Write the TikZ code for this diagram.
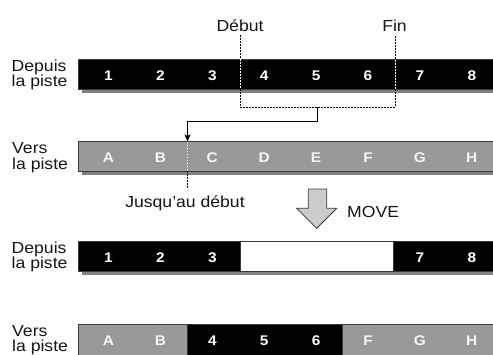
\documentclass[tikz,border=0pt]{standalone}
\usepackage{fontspec}
\setmainfont[FakeStretch=1.1]{Liberation Sans}
\usetikzlibrary{arrows.meta}
\definecolor{bargray}{HTML}{999999}
\definecolor{shadowgray}{HTML}{808080}
\definecolor{edgecol}{HTML}{3A3A3A}
\definecolor{arrowfill}{HTML}{CCCCCC}
\definecolor{txt}{HTML}{151515}
\definecolor{lettercol}{HTML}{F5F5F5}
\begin{document}
\begin{tikzpicture}[x=1pt,y=-1pt,
  lbl/.style={font=\fontsize{16}{15.7}\selectfont, text=txt, inner sep=0pt, align=left, anchor=north west},
  txtlbl/.style={font=\fontsize{16}{15.7}\selectfont, text=txt, inner sep=0pt},
  cellnum/.style={font=\fontsize{14}{14}\selectfont\bfseries, text=white, inner sep=0pt},
  celllet/.style={cellnum, text=lettercol},
  shadowbox/.style={fill=shadowgray, draw=none},
  blackbar/.style={fill=black, draw=edgecol, line width=0.8pt},
  graybar/.style={fill=bargray, draw=edgecol, line width=0.8pt},
  whitebox/.style={fill=white, draw=edgecol, line width=0.8pt},
  dots/.style={dash pattern=on 1.6pt off 1.4pt, line width=1pt},
  wdots/.style={dots, draw=white},
  conn/.style={line width=1pt, -{Stealth[length=7pt,width=6pt,inset=1.5pt]}},
  movearrow/.style={fill=arrowfill, draw=edgecol, line width=0.8pt, line join=miter}
]
\useasboundingbox (0,0) rectangle (493,354);
\clip (0,0) rectangle (493,354);

% ---- bar 1 : Depuis la piste
\fill[shadowbox] (82,62) rectangle (500,92.5);
\path[blackbar] (78,59) rectangle (500,89);
\node[lbl] (l1) at (11.5,59.5) {Depuis\\la piste};
\foreach \t [count=\i from 0] in {1,...,8}
  \node[cellnum] (a\t) at ({108.5+51.9*\i},75.5) {\t};

% ---- bar 2 : Vers la piste
\fill[shadowbox] (82,144) rectangle (500,174.5);
\path[graybar] (78,141) rectangle (500,171);
\node[lbl] (l2) at (12,142.5) {Vers\\la piste};
\foreach \t [count=\i from 0] in {A,B,C,D,E,F,G,H}
  \node[celllet] (b\t) at ({108.5+51.9*\i},158) {\t};

% ---- bar 3 : Depuis la piste (after move)
\fill[shadowbox] (82,244) rectangle (500,274.5);
\path[blackbar] (78,241) rectangle (500,271);
\path[whitebox] (240,241) rectangle (393.5,271);
\node[lbl] (l3) at (11.5,241.5) {Depuis\\la piste};
\foreach \t/\i in {1/0,2/1,3/2,7/6,8/7}
  \node[cellnum] (c\t) at ({108.5+51.9*\i},257.5) {\t};

% ---- bar 4 : Vers la piste (after move)
\path[graybar] (78,324) rectangle (500,362);
\path[blackbar] (187,324) rectangle (342,362);
\node[lbl] (l4) at (12,325) {Vers\\la piste};
\foreach \t/\i in {A/0,B/1,F/5,G/6,H/7}
  \node[celllet] (d\t) at ({108.5+51.9*\i},341) {\t};
\foreach \t/\i in {4/2,5/3,6/4}
  \node[cellnum] (d\t) at ({108.5+51.9*\i},341) {\t};

% ---- labels Début / Fin
\node[txtlbl, anchor=base] (debut) at (240,31) {Début};
\node[txtlbl, anchor=base] (fin) at (394.5,31) {Fin};

\coordinate (dTop) at (240,35);
\coordinate (dIn) at (240,59);
\coordinate (dOut) at (240,89);
\coordinate (dBot) at (240,107);
\coordinate (fTop) at (395,35);
\coordinate (fIn) at (395,59);
\coordinate (fOut) at (395,89);
\coordinate (fBot) at (395,107);

\draw[dots] (dTop) -- (dIn);
\draw[wdots] (dIn) -- (dOut);
\draw[dots] (dOut) -- (dBot) -- (fBot) -- (fOut);
\draw[wdots] (fOut) -- (fIn);
\draw[dots] (fIn) -- (fTop);

% ---- connector to "Jusqu'au début"
\coordinate (mid) at (317,107);
\coordinate (bend) at (317,121);
\coordinate (jTop) at (187.5,141.5);
\coordinate (jOut) at (187.5,171);
\coordinate (jBot) at (187.5,188);
\draw[conn] (mid) -- (bend) -| (jTop);
\draw[wdots] (jTop) -- (jOut);
\draw[dots] (jOut) -- (jBot);
\node[txtlbl, anchor=base] (jusqu) at (185,207.5) {Jusqu'au début};

% ---- MOVE arrow
\path[movearrow] (308.3,189) -- (326.7,189) -- (326.7,208.3) -- (336.7,208.3)
  -- (316.7,228.3) -- (296.7,208.3) -- (308.3,208.3) -- cycle;
\node[txtlbl, anchor=base west] (move) at (347,217) {MOVE};
\end{tikzpicture}
\end{document}
